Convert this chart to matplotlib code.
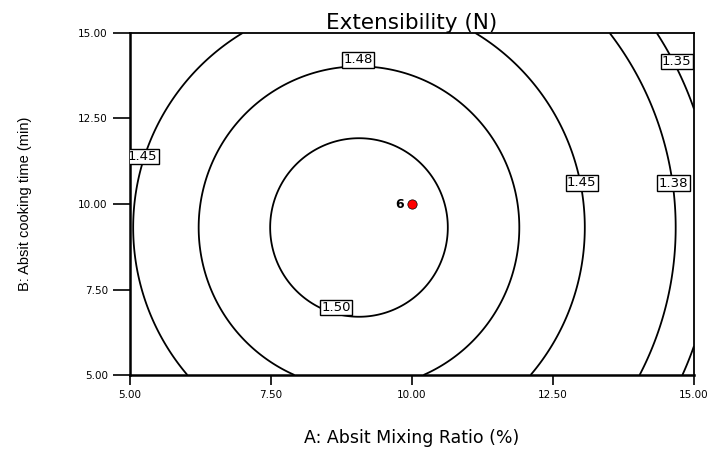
import numpy as np
import matplotlib
matplotlib.use("Agg")
import matplotlib.pyplot as plt
from matplotlib import font_manager as fm

# Quadratic response-surface model (coded units: A=(x-10)/5, B=(y-10)/5)
coef_names = ["Intercept", "A", "B", "A2", "B2"]
coef_values = [1.5058, -0.0376, -0.0100, -0.100, -0.0364]

# contour levels (shown rounded to 2 decimals)
levels = [1.3514, 1.3839, 1.4459, 1.4777, 1.5001]
label_pos = [(14.62, 13.92), (14.64, 10.42), (12.98, 10.42), (5.05, 11.28),
             (9.04, 14.0), (8.67, 6.85)]

design_x = [10.0]
design_y = [10.0]
design_n = ["6"]

x_ticks = [5.0, 7.5, 10.0, 12.5, 15.0]
y_ticks = [5.0, 7.5, 10.0, 12.5, 15.0]

title = "Extensibility (N)"
xlabel = "A: Absit Mixing Ratio (%)"
ylabel = "B: Absit cooking time (min)"

plt.rcParams['font.family'] = ['DejaVu Sans']
names = {f.name for f in fm.fontManager.ttflist}
narrow = 'Liberation Sans Narrow' if 'Liberation Sans Narrow' in names else 'Liberation Sans'

fig = plt.figure(figsize=(7.09, 4.49), dpi=100)
ax = fig.add_axes([130/709, 1-375/449, 564/709, 342/449])

xs = np.linspace(5, 15, 301)
ys = np.linspace(5, 15, 301)
X, Y = np.meshgrid(xs, ys)
A = (X - 10) / 5
B = (Y - 10) / 5
c = dict(zip(coef_names, coef_values))
Z = c["Intercept"] + c["A"]*A + c["B"]*B + c["A2"]*A**2 + c["B2"]*B**2

cs = ax.contour(X, Y, Z, levels=levels, colors='black', linewidths=1.3)
txts = ax.clabel(cs, inline=False, fmt='%.2f', fontsize=9.5, manual=label_pos)
for t in txts:
    t.set_rotation(0)
    t.set_verticalalignment('bottom')
    t.set_bbox(dict(boxstyle='square,pad=0.1', facecolor='white',
                    edgecolor='black', linewidth=1.0))
    t.set_zorder(5)

ax.scatter(design_x, design_y, s=45, color='red', edgecolors='black',
           linewidths=0.5, zorder=6)
for xv, yv, n in zip(design_x, design_y, design_n):
    ax.annotate(n, (xv, yv), xytext=(-6, 0), textcoords='offset points',
                ha='right', va='center', fontsize=9, fontweight='bold', zorder=6)

ax.set_xlim(5, 15)
ax.set_ylim(5, 15)
ax.set_xticks(x_ticks)
ax.set_yticks(y_ticks)
ax.set_xticklabels([f"{v:.2f}" for v in x_ticks], fontsize=7.5)
ax.set_yticklabels([f"{v:.2f}" for v in y_ticks], fontsize=7.5)
ax.tick_params(axis='y', direction='out', length=12, width=1.2, pad=4)
ax.tick_params(axis='x', direction='out', length=7, width=1.2, pad=4)

for s in ['left', 'bottom']:
    ax.spines[s].set_linewidth(1.8)
for s in ['top', 'right']:
    ax.spines[s].set_linewidth(1.3)

ax.set_title(title, fontsize=15.5, pad=3)
fig.text(412/709, 1-438/449, xlabel, ha='center', va='center', fontsize=12.5)
fig.text(25/709, 1-204/449, ylabel, ha='center', va='center', fontsize=10.5,
         rotation=90, family=[narrow, 'DejaVu Sans'])

fig.savefig("out.png", dpi=100)
